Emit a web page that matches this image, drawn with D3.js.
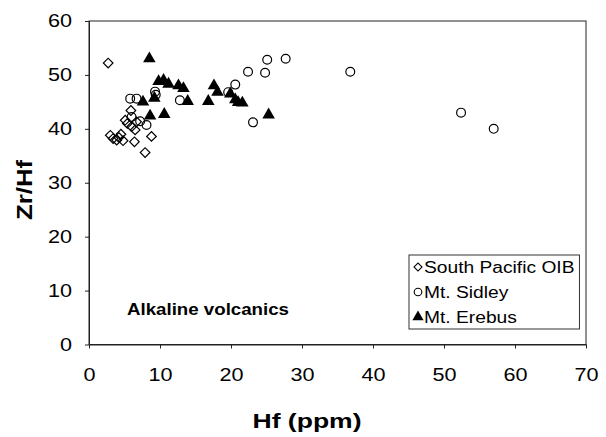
<!DOCTYPE html>
<html>
<head>
<meta charset="utf-8">
<script src="https://cdn.jsdelivr.net/npm/d3@7"></script>
<style>
  body { margin: 0; background: #fff; }
  text { font-family: "Liberation Sans", Arial, sans-serif; fill: #000; }
</style>
</head>
<body>
<svg id="chart"></svg>
<script>
// data: [Hf ppm, Zr/Hf]
var oib = [[2.7, 52.2], [5.9, 43.4], [5.1, 41.6], [6.0, 40.4], [6.5, 39.8], [3.0, 38.8],
           [3.4, 38.2], [3.9, 37.9], [4.5, 39.0], [4.8, 37.8], [6.4, 37.6], [8.8, 38.6],
           [7.9, 35.6], [5.4, 41.0], [4.2, 38.4], [6.7, 41.3]];
var sidley = [[5.8, 45.6], [6.7, 45.6], [9.3, 46.9], [9.4, 46.3], [12.8, 45.3], [7.2, 41.4],
              [8.1, 40.7], [6.0, 42.2], [20.6, 48.2], [19.6, 46.8], [22.4, 50.6], [24.8, 50.4],
              [25.1, 52.8], [27.7, 53.0], [23.1, 41.2], [36.8, 50.6], [52.4, 43.0], [57.0, 40.0]];
var erebus = [[8.5, 53.0], [9.8, 48.8], [10.5, 49.0], [11.2, 48.3], [12.6, 48.0], [13.3, 47.5],
              [7.6, 45.0], [9.2, 45.7], [13.9, 45.1], [8.6, 42.4], [10.6, 42.7], [16.8, 45.1],
              [17.6, 48.0], [18.1, 46.8], [19.9, 46.5], [20.6, 45.4], [21.0, 44.9], [21.6, 44.8],
              [25.3, 42.6]];
var xTicks = [0, 10, 20, 30, 40, 50, 60, 70];
var yTicks = [0, 10, 20, 30, 40, 50, 60];
var legendItems = [['South Pacific OIB', 'diamond'], ['Mt. Sidley', 'circle'], ['Mt. Erebus', 'triangle']];

var width = 606;
var height = 437;
var stretch = 1.2;   // the original figure's text is wider than normal Arial

var svg = d3.select('#chart')
    .attr('width', width)
    .attr('height', height);

var xScale = d3.scaleLinear().domain([0, 70]).range([89, 586]);
var yScale = d3.scaleLinear().domain([0, 60]).range([344.5, 21]);

var widen = (sel) => {
    sel.each(function() {
        var len = this.getComputedTextLength();
        d3.select(this).attr('textLength', len * stretch).attr('lengthAdjust', 'spacingAndGlyphs');
    });
};

// frame
svg.append('rect')
    .attr('x', xScale(0))
    .attr('y', yScale(60))
    .attr('width', xScale(70) - xScale(0))
    .attr('height', yScale(0) - yScale(60))
    .attr('fill', 'none')
    .attr('stroke', '#222')
    .attr('stroke-width', 1);

// axes
var xAxis = d3.axisBottom(xScale).tickValues(xTicks).tickSize(4).tickSizeOuter(0).tickPadding(20);
var yAxis = d3.axisLeft(yScale).tickValues(yTicks).tickSize(4).tickSizeOuter(0).tickPadding(13);

var gx = svg.append('g')
    .attr('transform', 'translate(0,' + yScale(0) + ')')
    .call(xAxis);
var gy = svg.append('g')
    .attr('transform', 'translate(' + xScale(0) + ',0)')
    .call(yAxis);

[gx, gy].forEach((g) => {
    g.select('.domain').attr('stroke', '#222');
    g.selectAll('.tick line').attr('stroke', '#222');
    g.selectAll('.tick text')
        .style('font-size', '18px')
        .style('font-family', '"Liberation Sans", Arial, sans-serif')
        .attr('fill', '#000')
        .call(widen);
});
gx.selectAll('.tick text').attr('dy', '0.71em');

// points
var diamond = d3.symbol().type(d3.symbolSquare).size(46);
var triangle = d3.symbol().type(d3.symbolTriangle).size(68);

svg.append('g').selectAll('path')
    .data(oib)
    .enter()
    .append('path')
    .attr('d', diamond)
    .attr('transform', (d) => 'translate(' + xScale(d[0]) + ',' + yScale(d[1]) + ') rotate(45)')
    .attr('fill', 'none')
    .attr('stroke', '#000')
    .attr('stroke-width', 1.2);

svg.append('g').selectAll('circle')
    .data(sidley)
    .enter()
    .append('circle')
    .attr('cx', (d) => xScale(d[0]))
    .attr('cy', (d) => yScale(d[1]))
    .attr('r', 4.4)
    .attr('fill', 'none')
    .attr('stroke', '#000')
    .attr('stroke-width', 1.2);

svg.append('g').selectAll('path')
    .data(erebus)
    .enter()
    .append('path')
    .attr('d', triangle)
    .attr('transform', (d) => 'translate(' + xScale(d[0]) + ',' + yScale(d[1]) + ')')
    .attr('fill', '#000');

// titles
svg.append('text')
    .attr('x', 307)
    .attr('y', 428)
    .attr('text-anchor', 'middle')
    .style('font-size', '21px')
    .style('font-weight', 'bold')
    .attr('textLength', 109)
    .attr('lengthAdjust', 'spacingAndGlyphs')
    .text('Hf (ppm)');

svg.append('text')
    .attr('transform', 'translate(32,190) rotate(-90)')
    .attr('text-anchor', 'middle')
    .style('font-size', '22px')
    .style('font-weight', 'bold')
    .attr('textLength', 60)
    .attr('lengthAdjust', 'spacingAndGlyphs')
    .text('Zr/Hf');

svg.append('text')
    .attr('x', 127)
    .attr('y', 315)
    .style('font-size', '17px')
    .style('font-weight', 'bold')
    .attr('textLength', 162)
    .attr('lengthAdjust', 'spacingAndGlyphs')
    .text('Alkaline volcanics');

// legend
var legend = svg.append('g').attr('id', 'legend');
var box = legend.append('rect')
    .attr('x', 409)
    .attr('y', 255)
    .attr('height', 74)
    .attr('fill', '#fff')
    .attr('stroke', '#333')
    .attr('stroke-width', 1);

var rows = legend.selectAll('.label')
    .data(legendItems)
    .enter()
    .append('g')
    .attr('class', 'label')
    .attr('transform', (d, i) => 'translate(0,' + [267, 292, 317][i] + ')');

rows.append('text')
    .attr('x', 424)
    .attr('y', 6)
    .style('font-size', '16px')
    .text((d) => d[0])
    .call(widen);

rows.each(function(d) {
    var g = d3.select(this);
    if (d[1] === 'diamond') {
        g.append('path').attr('d', d3.symbol().type(d3.symbolSquare).size(32))
            .attr('transform', 'translate(418,0) rotate(45)')
            .attr('fill', 'none').attr('stroke', '#000').attr('stroke-width', 1.1);
    } else if (d[1] === 'circle') {
        g.append('circle').attr('cx', 418).attr('cy', 0).attr('r', 3.8)
            .attr('fill', 'none').attr('stroke', '#000').attr('stroke-width', 1.1);
    } else {
        g.append('path').attr('d', d3.symbol().type(d3.symbolTriangle).size(55))
            .attr('transform', 'translate(418,0)')
            .attr('fill', '#000');
    }
});

var maxLen = d3.max(rows.selectAll('text').nodes(), (n) => +n.getAttribute('textLength'));
box.attr('width', 424 - 409 + maxLen + 5);
</script>
</body>
</html>
